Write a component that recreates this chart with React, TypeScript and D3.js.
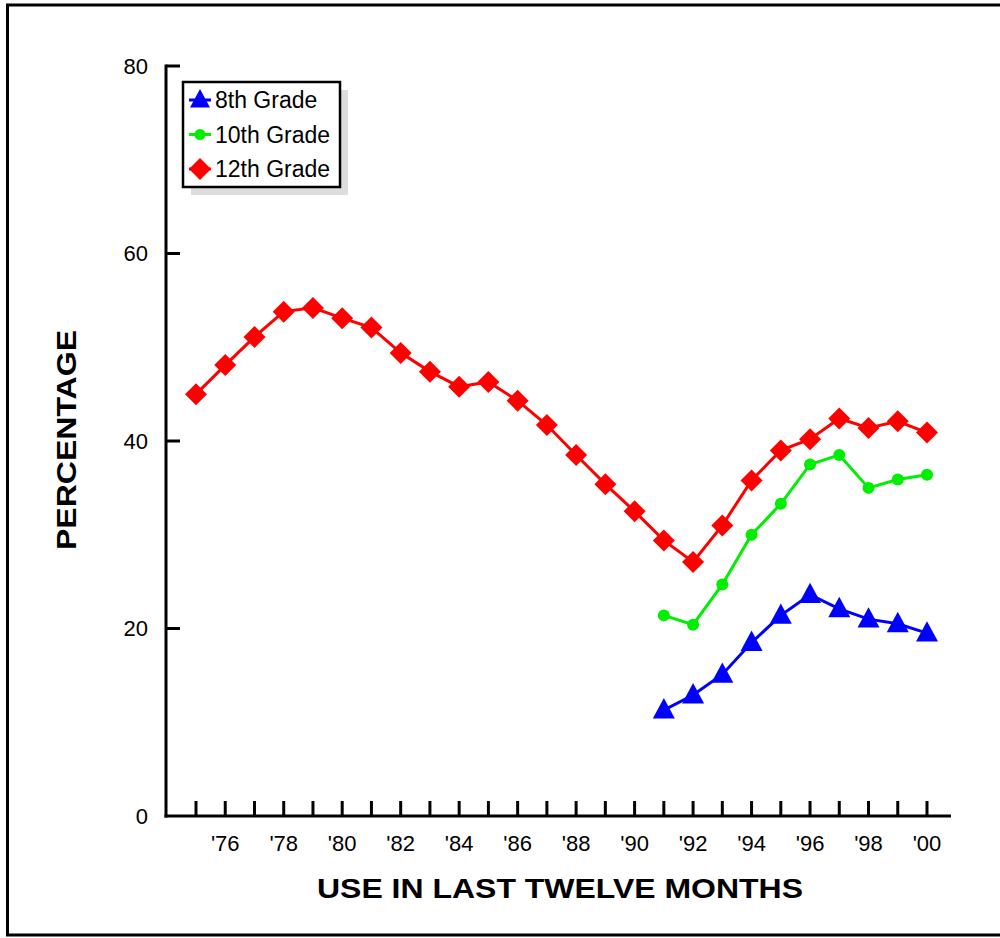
import React from "react";
import * as d3 from "d3";

const years12 = d3.range(1975, 2001);
const grade12 = [45.0, 48.1, 51.1, 53.8, 54.2, 53.1, 52.1, 49.4, 47.4, 45.8, 46.3, 44.3, 41.7, 38.5, 35.4, 32.5, 29.4, 27.1, 31.0, 35.8, 39.0, 40.2, 42.4, 41.4, 42.1, 40.9];
const years810 = d3.range(1991, 2001);
const grade10 = [21.4, 20.4, 24.7, 30.0, 33.3, 37.5, 38.5, 35.0, 35.9, 36.4];
const grade8 = [11.3, 12.9, 15.1, 18.5, 21.4, 23.6, 22.1, 21.0, 20.5, 19.5];
const yTicks = [0, 20, 40, 60, 80];
const xTickYears = d3.range(1975, 2001);
const xLabelYears = d3.range(1976, 2001, 2);
const legendLabels = ["8th Grade", "10th Grade", "12th Grade"];

const FONT = "Arial, 'Liberation Sans', Helvetica, sans-serif";

export default function App() {
  const x = d3.scaleLinear().domain([1975, 2000]).range([196, 927]);
  const y = d3.scaleLinear().domain([0, 80]).range([816, 66]);
  const line = d3.line<[number, number]>().x((d) => x(d[0])).y((d) => y(d[1]));

  const d12 = years12.map((yr, i) => [yr, grade12[i]] as [number, number]);
  const d10 = years810.map((yr, i) => [yr, grade10[i]] as [number, number]);
  const d8 = years810.map((yr, i) => [yr, grade8[i]] as [number, number]);

  const tri = (cx: number, cy: number, s = 11) =>
    `M${cx},${cy - s} L${cx + s},${cy + s * 0.85} L${cx - s},${cy + s * 0.85} Z`;
  const dia = (cx: number, cy: number, s = 11) =>
    `M${cx},${cy - s} L${cx + s},${cy} L${cx},${cy + s} L${cx - s},${cy} Z`;

  return (
    <svg width={1000} height={938} style={{ position: "absolute", left: 0, top: 0, background: "#fff" }}>
      <rect x={0} y={0} width={1000} height={938} fill="#fff" />
      {/* outer frame */}
      <path d="M1005,5 L7.5,5 L7.5,935 L1005,935" fill="none" stroke="#000" strokeWidth={3} />

      {/* y axis */}
      <line x1={166} x2={166} y1={y(80) - 1.5} y2={y(0) + 1.5} stroke="#000" strokeWidth={3} />
      {yTicks.filter((t) => t > 0).map((t) => (
        <line key={t} x1={166} x2={180} y1={y(t)} y2={y(t)} stroke="#000" strokeWidth={3} />
      ))}
      {yTicks.map((t) => (
        <text key={t} x={148} y={y(t)} dy="0.35em" textAnchor="end" fontFamily={FONT} fontSize={22} fill="#000">
          {t}
        </text>
      ))}

      {/* x axis */}
      <line x1={164.5} x2={951} y1={816} y2={816} stroke="#000" strokeWidth={3} />
      {xTickYears.map((t) => (
        <line key={t} x1={x(t)} x2={x(t)} y1={816} y2={801} stroke="#000" strokeWidth={3} />
      ))}
      {xLabelYears.map((t) => (
        <text key={t} x={x(t)} y={843} dy="0.35em" textAnchor="middle" fontFamily={FONT} fontSize={22} fill="#000">
          {"'" + String(t).slice(2)}
        </text>
      ))}

      {/* titles */}
      <text x={560} y={888} dy="0.35em" textAnchor="middle" fontFamily={FONT} fontWeight="bold" fontSize={28}
        textLength={486} lengthAdjust="spacingAndGlyphs" fill="#000">
        USE IN LAST TWELVE MONTHS
      </text>
      <text transform="translate(66,440) rotate(-90)" dy="0.35em" textAnchor="middle" fontFamily={FONT} fontWeight="bold" fontSize={28}
        textLength={220} lengthAdjust="spacingAndGlyphs" fill="#000">
        PERCENTAGE
      </text>

      {/* series */}
      <path d={line(d12) || ""} fill="none" stroke="#ff0000" strokeWidth={3} />
      <path d={line(d10) || ""} fill="none" stroke="#00ee00" strokeWidth={3} />
      <path d={line(d8) || ""} fill="none" stroke="#0000ff" strokeWidth={3} />
      {d12.map((d) => (
        <path key={d[0]} d={dia(x(d[0]), y(d[1]))} fill="#ff0000" />
      ))}
      {d10.map((d) => (
        <circle key={d[0]} cx={x(d[0])} cy={y(d[1])} r={6} fill="#00ee00" />
      ))}
      {d8.map((d) => (
        <path key={d[0]} d={tri(x(d[0]), y(d[1]) - 1)} fill="#0000ff" />
      ))}

      {/* legend */}
      <rect x={191} y={90} width={157} height={105} fill="#dddddd" />
      <rect x={183} y={82} width={157} height={105} fill="#fff" stroke="#000" strokeWidth={2.5} />
      {legendLabels.map((lab, i) => {
        const cy = 100 + i * 34.5;
        const cx = 200;
        let marker;
        if (i === 0) {
          marker = (
            <g>
              <line x1={cx - 11} x2={cx + 11} y1={cy} y2={cy} stroke="#0000ff" strokeWidth={3} />
              <path d={tri(cx, cy - 1, 10)} fill="#0000ff" />
            </g>
          );
        } else if (i === 1) {
          marker = (
            <g>
              <line x1={cx - 11} x2={cx + 11} y1={cy} y2={cy} stroke="#00ee00" strokeWidth={3} />
              <circle cx={cx} cy={cy} r={5.5} fill="#00ee00" />
            </g>
          );
        } else {
          marker = (
            <g>
              <line x1={cx - 11} x2={cx + 11} y1={cy} y2={cy} stroke="#ff0000" strokeWidth={3} />
              <path d={dia(cx, cy, 11)} fill="#ff0000" />
            </g>
          );
        }
        return (
          <g key={lab}>
            {marker}
            <text x={215} y={cy} dy="0.35em" fontFamily={FONT} fontSize={23} fill="#000">
              {lab}
            </text>
          </g>
        );
      })}
    </svg>
  );
}
